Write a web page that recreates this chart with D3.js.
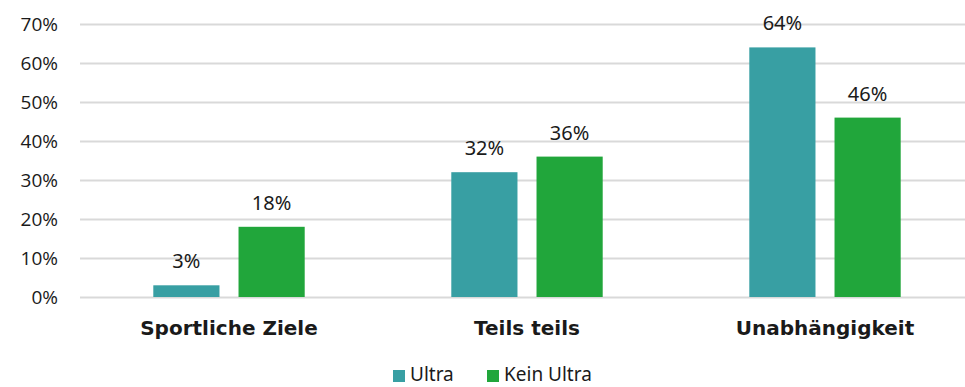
<!DOCTYPE html>
<html>
<head>
<meta charset="utf-8">
<script src="https://cdn.jsdelivr.net/npm/d3@7"></script>
<style>
  html, body { margin: 0; padding: 0; background: #fff; }
  svg { display: block; font-family: "Open Sans", "Noto Sans", sans-serif; }
</style>
</head>
<body>
<svg id="chart" width="965" height="387"></svg>
<script>
// Motivation categories and shares per group (percent)
const categories = ["Sportliche Ziele", "Teils teils", "Unabhängigkeit"];
const seriesNames = ["Ultra", "Kein Ultra"];
const ultraValues = [3, 32, 64];
const keinUltraValues = [18, 36, 46];
const yTicks = [0, 10, 20, 30, 40, 50, 60, 70];

const colors = { "Ultra": "#389fa3", "Kein Ultra": "#21a63b" };

const svg = d3.select("#chart");
const margin = { left: 80, right: -9, top: 24, bottom: 90 };
const width = 965, height = 387;

const x = d3.scaleBand()
  .domain(categories)
  .range([margin.left, width - margin.right])
  .paddingInner(0).paddingOuter(0);

const xSeries = d3.scaleBand()
  .domain(seriesNames)
  .range([0, x.bandwidth()])
  .paddingInner(0.2235)
  .paddingOuter(0.86);

const y = d3.scaleLinear()
  .domain([0, 70])
  .range([height - margin.bottom, margin.top]);

// Horizontal gridlines with percentage labels
const yAxis = d3.axisLeft(y)
  .tickValues(yTicks)
  .tickSize(-(width - margin.left))
  .tickPadding(22)
  .tickFormat(d => d + "%");

const gy = svg.append("g")
  .attr("transform", `translate(${margin.left},0)`)
  .call(yAxis);
gy.select(".domain").remove();
gy.selectAll(".tick line").attr("stroke", "#d9d9d9").attr("stroke-width", 2);
gy.selectAll(".tick text")
  .attr("fill", "#1a1a1a")
  .style("font-size", "19px")
  .style("font-family", "'Open Sans', sans-serif");

const rows = categories.map((c, i) => ({
  category: c,
  values: [
    { name: "Ultra", value: ultraValues[i] },
    { name: "Kein Ultra", value: keinUltraValues[i] }
  ]
}));

const groups = svg.append("g").selectAll("g")
  .data(rows).join("g")
  .attr("transform", d => `translate(${x(d.category)},0)`);

groups.selectAll("rect")
  .data(d => d.values).join("rect")
  .attr("x", d => xSeries(d.name))
  .attr("width", xSeries.bandwidth())
  .attr("y", d => y(d.value))
  .attr("height", d => y(0) - y(d.value))
  .attr("fill", d => colors[d.name]);

groups.selectAll("text.val")
  .data(d => d.values).join("text")
  .attr("class", "val")
  .attr("x", d => xSeries(d.name) + xSeries.bandwidth() / 2)
  .attr("y", d => y(d.value) - 17)
  .attr("text-anchor", "middle")
  .attr("fill", "#1a1a1a")
  .style("font-family", "'Noto Sans', sans-serif")
  .style("font-size", "20px")
  .text(d => d.value + "%");

// Category labels below the baseline
svg.append("g").selectAll("text")
  .data(categories).join("text")
  .attr("x", d => x(d) + x.bandwidth() / 2)
  .attr("y", y(0) + 38)
  .attr("text-anchor", "middle")
  .attr("fill", "#1a1a1a")
  .style("font-family", "'DejaVu Sans', sans-serif")
  .style("font-size", "20px")
  .style("font-weight", "bold")
  .text(d => d);

// Legend
const legend = svg.append("g").attr("transform", "translate(393,370)");
const legendItems = [{ name: "Ultra", x: 0 }, { name: "Kein Ultra", x: 94 }];
const li = legend.selectAll("g").data(legendItems).join("g")
  .attr("transform", d => `translate(${d.x},0)`);
li.append("rect")
  .attr("x", 0).attr("y", 0)
  .attr("width", 12).attr("height", 12)
  .attr("fill", d => colors[d.name]);
li.append("text")
  .attr("x", 17).attr("y", 11)
  .attr("fill", "#1a1a1a")
  .style("font-family", "'Noto Sans', sans-serif")
  .style("font-size", "19px")
  .text(d => d.name);
</script>
</body>
</html>
